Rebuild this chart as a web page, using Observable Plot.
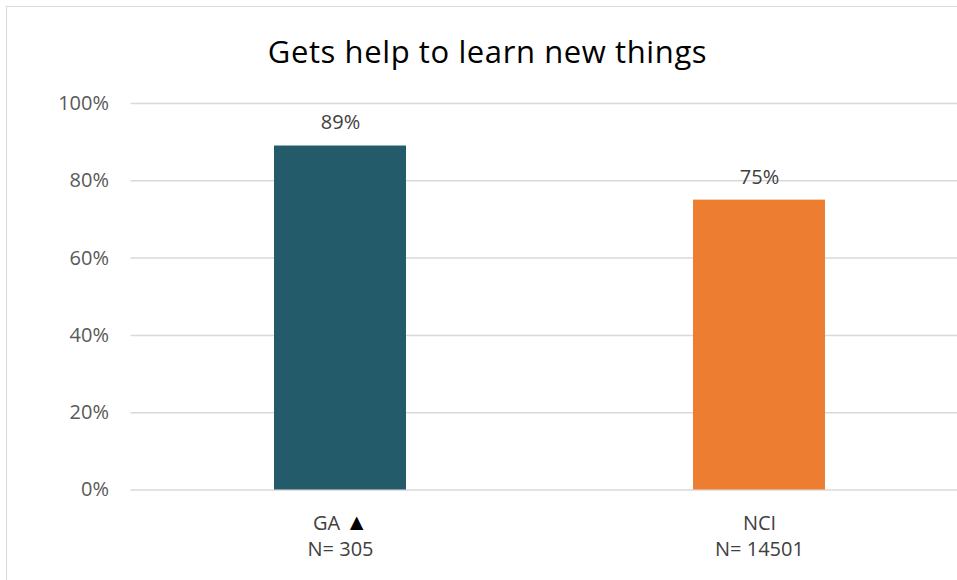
<!DOCTYPE html>
<html>
<head>
<meta charset="utf-8">
<script src="https://cdn.jsdelivr.net/npm/d3@7"></script>
<script src="https://cdn.jsdelivr.net/npm/@observablehq/plot@0.6"></script>
<style>
  html, body { margin: 0; padding: 0; background: #fff; overflow: hidden; width: 957px; height: 580px; }
  #frame { position: absolute; left: 6px; top: 6px; width: 1000px; height: 620px; border: 1.5px solid #d9d9d9; box-sizing: border-box; }
  #title { position: absolute; left: 0; top: 0; width: 975px; text-align: center; font-family: "Open Sans", sans-serif; font-size: 31px; letter-spacing: 0.6px; color: #000; line-height: 1; padding-top: 36px; }
  #chart { position: absolute; left: 0; top: 0; width: 980px; height: 580px; }
  #chart svg { max-width: none !important; overflow: visible; }
</style>
</head>
<body>
<div id="frame"></div>
<div id="title">Gets help to learn new things</div>
<div id="chart"></div>
<script>
const categories = ["GA", "NCI"];
const values = [0.89, 0.75];
const colors = ["#245b6a", "#ed7d31"];
const categoryLabels = ["GA ▲", "NCI"];
const sampleSizes = ["N= 305", "N= 14501"];
const yTicks = [0, 0.2, 0.4, 0.6, 0.8, 1.0];

const data = categories.map((c, i) => ({category: c, value: values[i], color: colors[i]}));

const chart = Plot.plot({
  width: 969,
  height: 580,
  marginLeft: 130.5,
  marginRight: 0,
  marginTop: 103,
  marginBottom: 90.5,
  style: {fontFamily: "'Open Sans', sans-serif", background: "transparent", maxWidth: "none", overflow: "visible"},
  x: {domain: categories, paddingInner: 0.685, paddingOuter: 0.3425, align: 0.5, label: null},
  y: {domain: [0, 1], label: null},
  marks: [
    Plot.ruleY(yTicks, {stroke: "#d9d9d9", strokeWidth: 1.5, insetRight: -10}),
    Plot.barY(data, {x: "category", y: "value", fill: "color"}),
    Plot.text(data, {x: "category", y: "value", text: d => d3.format(".0%")(d.value), dy: -23, fontSize: 20, fill: "#404040"}),
    Plot.axisY({ticks: yTicks, tickFormat: d3.format(".0%"), tickSize: 0, tickPadding: 22, fontSize: 20, fill: "#595959", label: null}),
    Plot.axisX({tickSize: 0, tickPadding: 22, fontSize: 20, fill: "#404040", lineHeight: 1.3, label: null,
      tickFormat: (d) => { const i = categories.indexOf(d); return categoryLabels[i] + "\n" + sampleSizes[i]; }})
  ]
});
document.getElementById("chart").appendChild(chart);

// enlarge and darken the triangle marker within the axis label
d3.select(chart).selectAll("text tspan, text").each(function() {
  const el = this;
  if (el.childNodes.length === 1 && el.firstChild.nodeType === 3 && el.textContent.includes("▲")) {
    const parts = el.textContent.split("▲");
    el.textContent = parts[0];
    d3.select(el).append("tspan").attr("fill", "#000").attr("font-size", 23).text("▲");
    if (parts[1]) d3.select(el).append("tspan").text(parts[1]);
  }
});
</script>
</body>
</html>
